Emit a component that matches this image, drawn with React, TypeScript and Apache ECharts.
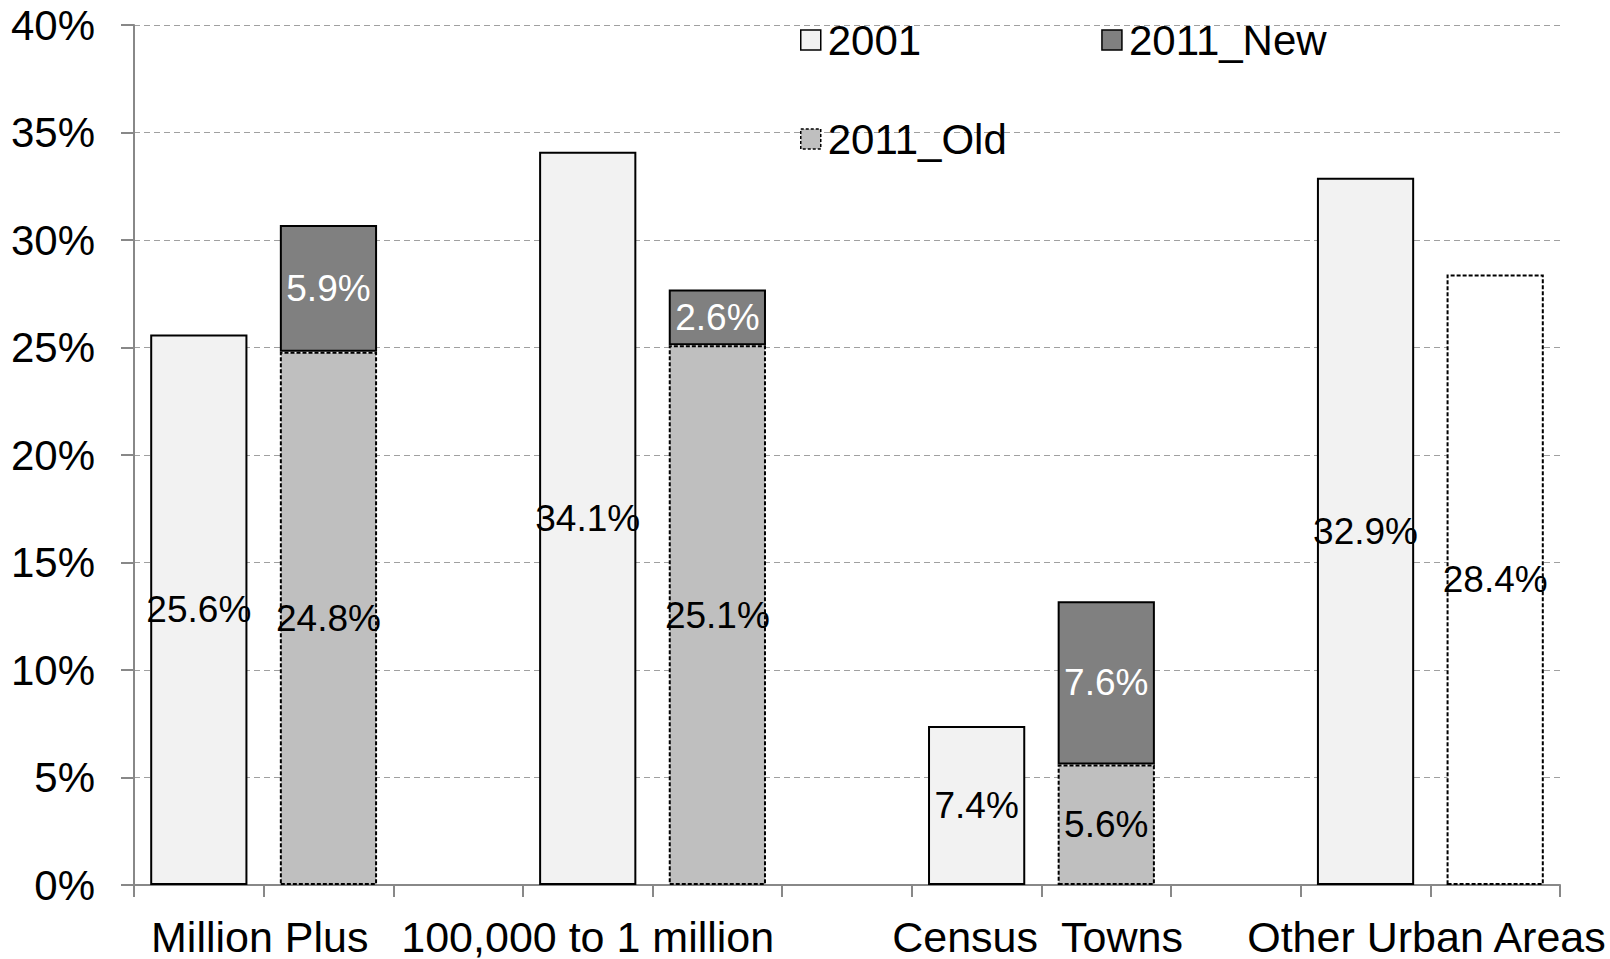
import React, { useEffect, useRef } from "react";
import * as echarts from "echarts";

const categories = [
  "Million Plus 2001",
  "Million Plus 2011",
  "gap 1",
  "100,000 to 1 million 2001",
  "100,000 to 1 million 2011",
  "gap 2",
  "Census Towns 2001",
  "Census Towns 2011",
  "gap 3",
  "Other Urban Areas 2001",
  "Other Urban Areas 2011",
];

const values2001: (number | null)[] = [25.6, null, null, 34.1, null, null, 7.4, null, null, 32.9, null];
const values2011Old: (number | null)[] = [null, 24.8, null, null, 25.1, null, null, 5.6, null, null, 28.4];
const values2011New: (number | null)[] = [null, 5.9, null, null, 2.6, null, null, 7.6, null, null, null];

const groupLabels = ["Million Plus", "100,000 to 1 million", "Census  Towns", "Other Urban Areas"];
const groupLabelSlots = [0.97, 3.5, 6.97, 9.97];

const yTicks = [0, 5, 10, 15, 20, 25, 30, 35, 40];

const FONT = "'Liberation Sans', Arial, Helvetica, sans-serif";

export default function App() {
  const ref = useRef<HTMLDivElement>(null);

  useEffect(() => {
    if (!ref.current) return;
    const chart = echarts.init(ref.current, undefined, { renderer: "svg" });

    const labelMap: Record<number, string> = {};
    groupLabelSlots.forEach((s, i) => {
      labelMap[Math.round(s * 100)] = groupLabels[i];
    });

    const pctLabel = (color: string) => ({
      show: true,
      position: "inside",
      color,
      fontSize: 37,
      fontFamily: FONT,
      formatter: (p: any) => (p.value == null ? "" : Number(p.value).toFixed(1) + "%"),
    });

    const style2001 = { color: "#f2f2f2", borderColor: "#000", borderWidth: 2 };
    const styleOld = { color: "#bfbfbf", borderColor: "#000", borderWidth: 2, borderType: [4, 2] as any };
    const styleNew = { color: "#808080", borderColor: "#000", borderWidth: 2 };

    const oldData = values2011Old.map((v, i) =>
      i === values2011Old.length - 1 && v != null
        ? { value: v, itemStyle: { ...styleOld, color: "#ffffff" } }
        : v
    );

    chart.setOption({
      animation: false,
      backgroundColor: "#ffffff",
      textStyle: { fontFamily: FONT },
      grid: { left: 134, right: 50, top: 25, bottom: 74, containLabel: false },
      legend: [
        {
          left: 795,
          top: 14,
          orient: "horizontal",
          icon: "rect",
          itemWidth: 20,
          itemHeight: 20,
          itemGap: 180,
          textStyle: { fontSize: 42, color: "#000", fontFamily: FONT, padding: [0, 0, 0, 2] },
          data: [
            { name: "2001", itemStyle: { ...style2001, borderWidth: 1.5 } },
            { name: "2011_New", itemStyle: { ...styleNew, borderWidth: 1.5 } },
          ],
        },
        {
          left: 795,
          top: 113,
          orient: "horizontal",
          icon: "rect",
          itemWidth: 20,
          itemHeight: 20,
          textStyle: { fontSize: 42, color: "#000", fontFamily: FONT, padding: [0, 0, 0, 2] },
          data: [{ name: "2011_Old", itemStyle: { ...styleOld, borderWidth: 1.5, borderType: [3, 2] } }],
        },
      ],
      xAxis: [
        {
          type: "category",
          data: categories,
          boundaryGap: true,
          axisLine: { show: true, lineStyle: { color: "#888888", width: 2 } },
          axisTick: { show: true, interval: 0, length: 12, lineStyle: { color: "#888888", width: 2 } },
          axisLabel: { show: false },
          splitLine: { show: false },
        },
        {
          type: "value",
          position: "bottom",
          min: 0,
          max: 11,
          interval: 0.01,
          axisLine: { show: false },
          axisTick: { show: false },
          splitLine: { show: false },
          axisLabel: {
            show: true,
            margin: 30,
            fontSize: 43,
            color: "#000",
            fontFamily: FONT,
            showMinLabel: true,
            showMaxLabel: true,
            hideOverlap: false,
            formatter: (v: number) => labelMap[Math.round(v * 100)] ?? "",
          },
        },
      ],
      yAxis: {
        type: "value",
        min: yTicks[0],
        max: yTicks[yTicks.length - 1],
        interval: 5,
        axisLine: { show: true, lineStyle: { color: "#888888", width: 2 } },
        axisTick: { show: true, length: 13, lineStyle: { color: "#888888", width: 2 } },
        axisLabel: {
          margin: 39,
          fontSize: 42,
          color: "#000",
          fontFamily: FONT,
          formatter: (v: number) => v + "%",
        },
        splitLine: { show: true, lineStyle: { color: "#a0a0a0", width: 1, type: [6, 4] } },
      },
      series: [
        {
          name: "2001",
          type: "bar",
          stack: "all",
          barWidth: "75%",
          xAxisIndex: 0,
          itemStyle: style2001,
          label: pctLabel("#000"),
          data: values2001,
        },
        {
          name: "2011_Old",
          type: "bar",
          stack: "all",
          barWidth: "75%",
          xAxisIndex: 0,
          itemStyle: styleOld,
          label: pctLabel("#000"),
          data: oldData,
        },
        {
          name: "2011_New",
          type: "bar",
          stack: "all",
          barWidth: "75%",
          xAxisIndex: 0,
          itemStyle: styleNew,
          label: pctLabel("#ffffff"),
          data: values2011New,
        },
      ],
    });

    return () => chart.dispose();
  }, []);

  return (
    <div
      ref={ref}
      style={{ position: "fixed", left: 0, top: 0, width: 1610, height: 959, background: "#fff" }}
    />
  );
}
